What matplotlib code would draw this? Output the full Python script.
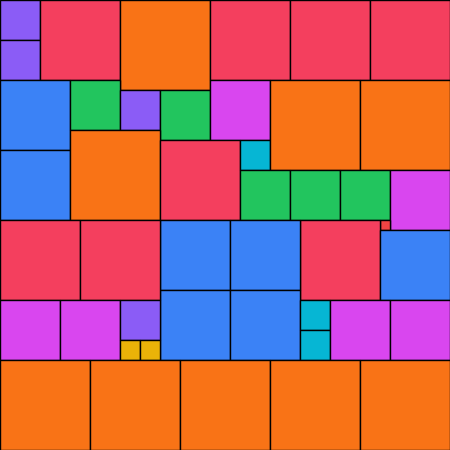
import matplotlib
matplotlib.use("Agg")
import matplotlib.pyplot as plt

# square packing: left, top and side of every square (grid units, 45 x 45)
lefts = [0, 0, 4, 12, 21, 29, 37,
         0, 0, 7, 12, 16, 21, 7, 16, 24, 27, 36,
         24, 29, 34, 39, 38, 30, 38,
         16, 16, 23, 23, 0, 8,
         0, 6, 12, 12, 14, 30, 30, 33, 39,
         0, 9, 18, 27, 36]
tops = [0, 4, 0, 0, 0, 0, 0,
        8, 15, 8, 9, 9, 8, 13, 14, 14, 8, 8,
        17, 17, 17, 17, 22, 22, 23,
        22, 29, 22, 29, 22, 22,
        30, 30, 30, 34, 34, 30, 33, 30, 30,
        36, 36, 36, 36, 36]
sides = [4, 4, 8, 9, 8, 8, 8,
         7, 7, 5, 4, 5, 6, 9, 8, 3, 9, 9,
         5, 5, 5, 6, 1, 8, 7,
         7, 7, 7, 7, 8, 8,
         6, 6, 4, 2, 2, 3, 3, 6, 6,
         9, 9, 9, 9, 9]

# colour by side length
side_colors = {1: "#EF4444", 2: "#EAB308", 3: "#06B6D4", 4: "#8B5CF6",
               5: "#22C55E", 6: "#D946EF", 7: "#3B82F6", 8: "#F43F5E",
               9: "#F97316"}

fig = plt.figure(figsize=(4.5, 4.5), dpi=100)
ax = fig.add_axes([0, 0, 1, 1])

colors = [side_colors[s] for s in sides]
ax.bar(lefts, sides, width=sides, bottom=tops, align="edge",
       color=colors, edgecolor="black", linewidth=1.0)

ax.set_xlim(0, 45)
ax.set_ylim(45, 0)
ax.axis("off")

fig.savefig("out.png", dpi=100)
